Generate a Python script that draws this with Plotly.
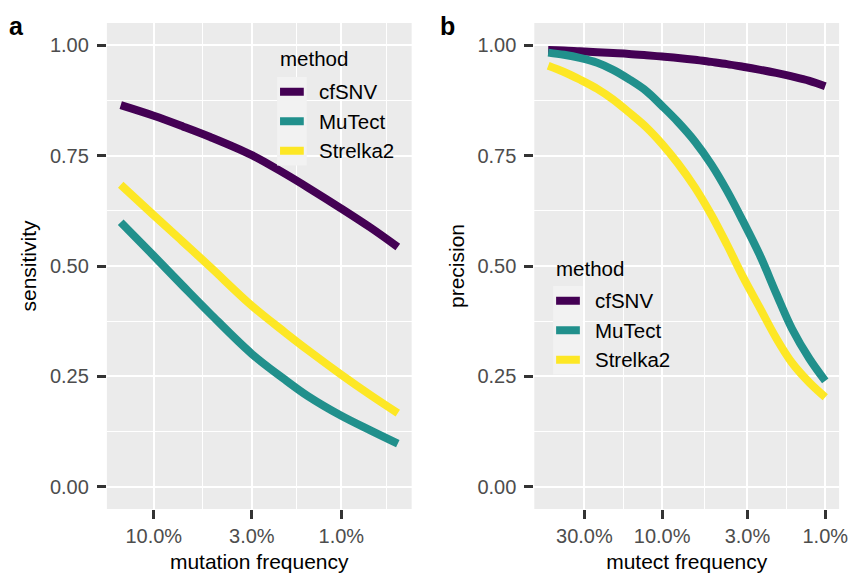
import math
import plotly.graph_objects as go

W, H = 858, 573

methods = ["cfSNV", "MuTect", "Strelka2"]
colors = ["#440154", "#21908C", "#FDE725"]

# panel a: sensitivity against mutation frequency
sens_freq = [0.15, 0.10, 0.07, 0.05, 0.03, 0.02, 0.015, 0.01, 0.007, 0.005]
sens_cfsnv = [0.864, 0.840, 0.816, 0.792, 0.751, 0.709, 0.677, 0.630, 0.587, 0.543]
sens_mutect = [0.599, 0.523, 0.455, 0.392, 0.301, 0.243, 0.205, 0.161, 0.128, 0.098]
sens_strelka2 = [0.684, 0.615, 0.555, 0.498, 0.410, 0.350, 0.309, 0.254, 0.208, 0.167]

# panel b: precision against mutect frequency
prec_freq = [0.50, 0.40, 0.32, 0.25, 0.20, 0.16, 0.125, 0.10, 0.08, 0.063,
             0.05, 0.04, 0.032, 0.025, 0.02, 0.016, 0.0125, 0.01]
prec_cfsnv = [0.989, 0.988, 0.986, 0.984, 0.982, 0.980, 0.977, 0.974, 0.971, 0.967,
              0.962, 0.957, 0.951, 0.944, 0.937, 0.929, 0.919, 0.907]
prec_mutect = [0.983, 0.978, 0.971, 0.960, 0.944, 0.923, 0.896, 0.862, 0.826, 0.782,
               0.730, 0.670, 0.602, 0.522, 0.438, 0.358, 0.290, 0.240]
prec_strelka2 = [0.953, 0.939, 0.922, 0.901, 0.877, 0.848, 0.814, 0.776, 0.732, 0.678,
                 0.616, 0.548, 0.476, 0.403, 0.337, 0.281, 0.236, 0.203]

sens_ticks = [0.10, 0.03, 0.01]
sens_ticktext = ["10.0%", "3.0%", "1.0%"]
sens_minor = [0.05477, 0.01732, 0.005774]
prec_ticks = [0.30, 0.10, 0.03, 0.01]
prec_ticktext = ["30.0%", "10.0%", "3.0%", "1.0%"]
prec_minor = [0.1732, 0.05477, 0.01732]
y_ticks = [0, 0.25, 0.5, 0.75, 1.0]
y_ticktext = ["0.00", "0.25", "0.50", "0.75", "1.00"]
y_minor = [0.125, 0.375, 0.625, 0.875]

FONT = "Liberation Sans, Arial, sans-serif"
PANEL_BG = "#EBEBEB"
KEY_BG = "#F2F2F2"


def px(x):
    return x / W


def py(y):
    return 1 - y / H


fig = go.Figure()

sens_series = [sens_cfsnv, sens_mutect, sens_strelka2]
prec_series = [prec_cfsnv, prec_mutect, prec_strelka2]

for name, col, ys in zip(methods, colors, sens_series):
    fig.add_trace(go.Scatter(x=sens_freq, y=ys, mode="lines", name=name,
                             line=dict(color=col, width=8, shape="spline", smoothing=1.0),
                             xaxis="x", yaxis="y", showlegend=False))
for name, col, ys in zip(methods, colors, prec_series):
    fig.add_trace(go.Scatter(x=prec_freq, y=ys, mode="lines", name=name,
                             line=dict(color=col, width=8, shape="spline", smoothing=1.0),
                             xaxis="x2", yaxis="y2", showlegend=False))


def log_range(lo, hi):
    a, b = math.log10(lo), math.log10(hi)
    pad = 0.05 * (b - a)
    return [b + pad, a - pad]  # reversed: high frequency on the left


common_x = dict(
    type="log", showline=False, zeroline=False,
    gridcolor="white", gridwidth=2.4,
    ticks="outside", ticklen=9, tickwidth=2.5, tickcolor="#333333",
    tickfont=dict(family=FONT, size=20, color="#4D4D4D"),
    title_font=dict(family=FONT, size=21, color="black"),
    tickmode="array",
)
common_y = dict(
    range=[-0.05, 1.05], showline=False, zeroline=False,
    gridcolor="white", gridwidth=2.4,
    ticks="outside", ticklen=9, tickwidth=2.5, tickcolor="#333333",
    tickfont=dict(family=FONT, size=20, color="#4D4D4D"),
    title_font=dict(family=FONT, size=21, color="black"),
    tickmode="array", tickvals=y_ticks, ticktext=y_ticktext,
    minor=dict(tickmode="array", tickvals=y_minor, showgrid=True,
               gridcolor="white", gridwidth=1.3, ticks=""),
    ticklabelstandoff=4,
)

fig.update_layout(
    width=W, height=H,
    margin=dict(l=0, r=0, t=0, b=0),
    paper_bgcolor="white",
    plot_bgcolor=PANEL_BG,
    showlegend=False,
    xaxis=dict(domain=[px(108), px(416)], anchor="y",
               range=log_range(min(sens_freq), max(sens_freq)),
               tickvals=sens_ticks, ticktext=sens_ticktext,
               minor=dict(tickmode="array", tickvals=sens_minor, showgrid=True,
                          gridcolor="white", gridwidth=1.3, ticks=""),
               title=dict(text="mutation frequency", standoff=9),
               **common_x),
    xaxis2=dict(domain=[px(540), px(848)], anchor="y2",
                range=log_range(min(prec_freq), max(prec_freq)),
                tickvals=prec_ticks, ticktext=prec_ticktext,
                minor=dict(tickmode="array", tickvals=prec_minor, showgrid=True,
                           gridcolor="white", gridwidth=1.3, ticks=""),
                title=dict(text="mutect frequency", standoff=9),
                **common_x),
    yaxis=dict(domain=[py(509), py(23)], anchor="x",
               title=dict(text="sensitivity", standoff=7), **common_y),
    yaxis2=dict(domain=[py(509), py(23)], anchor="x2",
                title=dict(text="precision", standoff=7), **common_y),
)

shapes = []
annotations = []

# panel tags
annotations.append(dict(text="<b>a</b>", x=px(17), y=py(26), xref="paper", yref="paper",
                        showarrow=False, xanchor="center", yanchor="middle",
                        font=dict(family=FONT, size=25, color="black")))
annotations.append(dict(text="<b>b</b>", x=px(452), y=py(26), xref="paper", yref="paper",
                        showarrow=False, xanchor="center", yanchor="middle",
                        font=dict(family=FONT, size=25, color="black")))


def add_legend(left, title_y, key_top, step=29.5):
    annotations.append(dict(text="method", x=px(left + 1), y=py(title_y),
                            xref="paper", yref="paper", showarrow=False,
                            xanchor="left", yanchor="middle",
                            font=dict(family=FONT, size=20.5, color="black")))
    shapes.append(dict(type="rect", xref="paper", yref="paper",
                       x0=px(left), x1=px(left + 30),
                       y0=py(key_top), y1=py(key_top + 3 * step),
                       fillcolor=KEY_BG, line=dict(width=0), layer="above"))
    for i, (name, col) in enumerate(zip(methods, colors)):
        cy = key_top + step * (i + 0.5)
        shapes.append(dict(type="line", xref="paper", yref="paper",
                           x0=px(left + 3), x1=px(left + 27), y0=py(cy), y1=py(cy),
                           line=dict(color=col, width=8), layer="above"))
        annotations.append(dict(text=name, x=px(left + 40), y=py(cy),
                                xref="paper", yref="paper", showarrow=False,
                                xanchor="left", yanchor="middle",
                                font=dict(family=FONT, size=20.5, color="black")))


add_legend(280, 58, 77)
add_legend(559, 268, 286)

fig.update_layout(shapes=shapes, annotations=annotations)

fig.write_html("out.html")
